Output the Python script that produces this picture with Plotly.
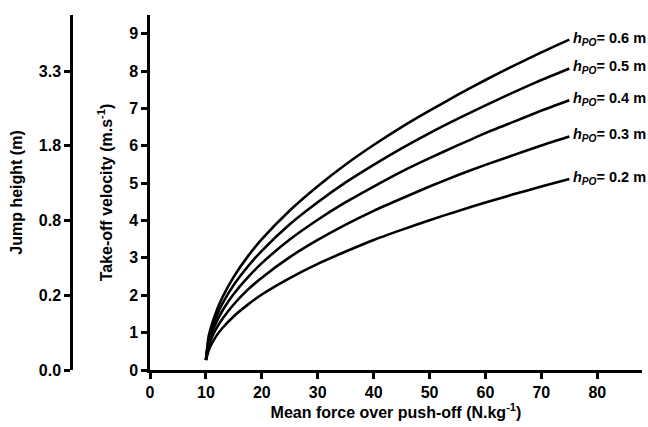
import plotly.graph_objects as go

# Mean force over push-off (N/kg)
force = [10, 10.5, 11, 12, 13, 15, 17.5, 20, 25, 30, 35, 40, 45, 50, 55, 60, 65, 70, 75]

# Take-off velocity (m/s), per push-off distance
v_h02 = [0.26, 0.53, 0.69, 0.94, 1.13, 1.44, 1.75, 2.02, 2.46, 2.84, 3.17, 3.48, 3.75, 4.01, 4.25, 4.48, 4.70, 4.91, 5.11]
v_h03 = [0.27, 0.64, 0.85, 1.15, 1.38, 1.76, 2.15, 2.47, 3.02, 3.48, 3.89, 4.26, 4.59, 4.91, 5.21, 5.49, 5.75, 6.01, 6.25]
v_h04 = [0.27, 0.74, 0.98, 1.32, 1.60, 2.04, 2.48, 2.86, 3.49, 4.02, 4.49, 4.91, 5.31, 5.67, 6.01, 6.34, 6.64, 6.94, 7.22]
v_h05 = [0.27, 0.83, 1.09, 1.48, 1.79, 2.28, 2.77, 3.19, 3.90, 4.49, 5.02, 5.49, 5.93, 6.34, 6.72, 7.08, 7.43, 7.76, 8.07]
v_h06 = [0.27, 0.91, 1.19, 1.62, 1.96, 2.50, 3.04, 3.50, 4.27, 4.92, 5.50, 6.02, 6.50, 6.94, 7.36, 7.76, 8.14, 8.50, 8.84]

series_labels = ["0.2", "0.3", "0.4", "0.5", "0.6"]
series_values = [v_h02, v_h03, v_h04, v_h05, v_h06]

# Jump height axis: labels at the velocity positions they correspond to
jump_tick_velocity = [0, 2, 4, 6, 8]
jump_tick_labels = ["0.0", "0.2", "0.8", "1.8", "3.3"]

x_ticks = [0, 10, 20, 30, 40, 50, 60, 70, 80]
y_ticks = [0, 1, 2, 3, 4, 5, 6, 7, 8, 9]

FONT = "Liberation Sans, Arial, sans-serif"

fig = go.Figure()
for lab, vals in zip(series_labels, series_values):
    fig.add_trace(go.Scatter(
        x=force, y=vals, mode="lines",
        line=dict(color="black", width=2.6, shape="spline", smoothing=0.6),
        showlegend=False, hoverinfo="skip"))
    fig.add_annotation(
        x=force[-1], y=vals[-1], xref="x", yref="y",
        text=f"<b><i>h</i><sub><i>PO</i></sub>= {lab} m</b>",
        showarrow=False, xanchor="left", yanchor="middle", xshift=2, yshift=1,
        font=dict(family=FONT, size=14.5, color="black"))

# dummy trace on the jump-height axis
fig.add_trace(go.Scatter(x=[None], y=[None], yaxis="y2", showlegend=False, hoverinfo="skip"))

tick_font = dict(family=FONT, size=16, color="black", weight="bold")
title_font = dict(family=FONT, size=16, color="black")

common = dict(ticks="outside", ticklen=6, tickwidth=2.5, tickcolor="black",
              showline=True, linewidth=2.5, linecolor="black",
              showgrid=False, zeroline=False, tickfont=tick_font)

fig.update_layout(
    width=648, height=427,
    paper_bgcolor="white", plot_bgcolor="white",
    margin=dict(l=71, r=6, t=15, b=57),
    xaxis=dict(
        domain=[79 / 571, 1], range=[0, 88], tickvals=x_ticks,
        title=dict(text="<b>Mean force over push-off (N.kg<sup>-1</sup>)</b>",
                   font=title_font, standoff=6),
        **common),
    yaxis=dict(
        range=[0, 9.5], tickvals=y_ticks,
        title=dict(text="<b>Take-off velocity (m.s<sup>-1</sup>)</b>",
                   font=title_font, standoff=13),
        **common),
    yaxis2=dict(
        overlaying="y", anchor="free", position=0, side="left",
        range=[0, 9.5], tickvals=jump_tick_velocity, ticktext=jump_tick_labels,
        title=dict(text="<b>Jump height (m)</b>", font=title_font, standoff=11),
        **common),
)

fig.write_html(
    "out.html",
    config={"displayModeBar": False},
    post_script="document.body.style.margin='0';document.body.style.overflow='hidden';",
)
